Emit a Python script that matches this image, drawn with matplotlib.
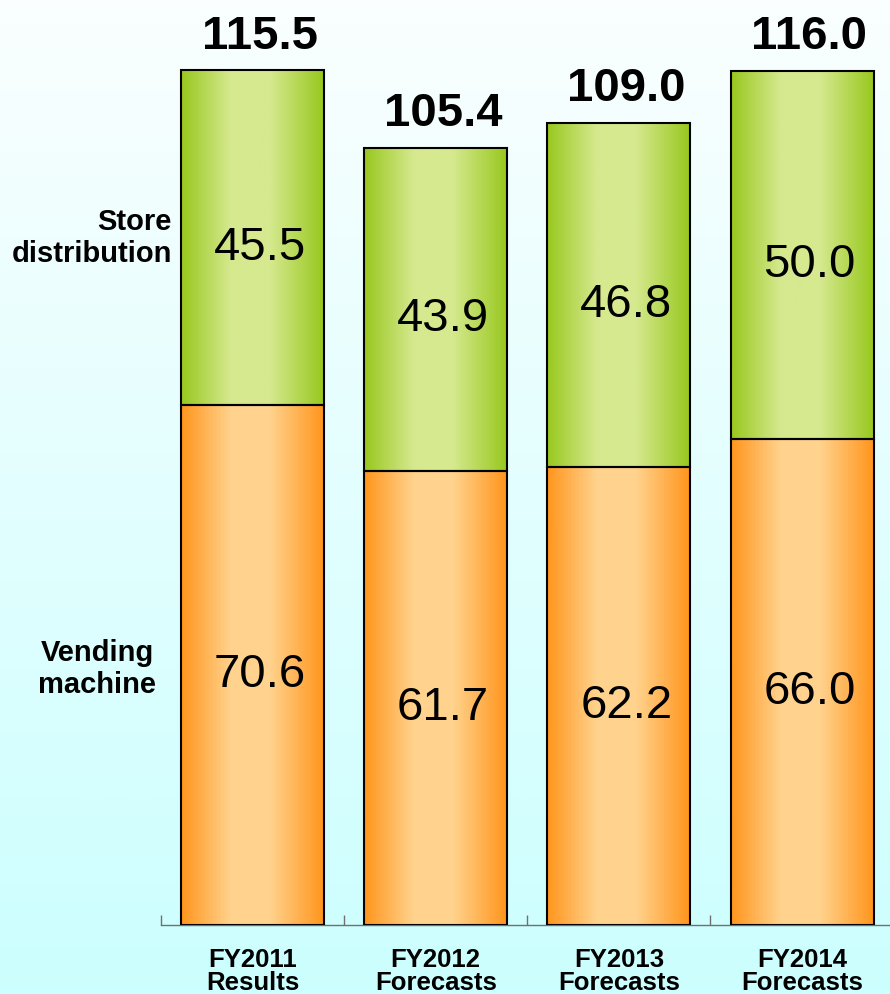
import numpy as np
import matplotlib
matplotlib.use('Agg')
import matplotlib.pyplot as plt
from matplotlib.colors import LinearSegmentedColormap

plt.rcParams['font.family'] = ['Liberation Sans', 'DejaVu Sans']

categories = ['FY2011\nResults', 'FY2012\nForecasts', 'FY2013\nForecasts', 'FY2014\nForecasts']
vending = [70.6, 61.7, 62.2, 66.0]
store = [45.5, 43.9, 46.8, 50.0]
totals = ['115.5', '105.4', '109.0', '116.0']

# horizontal shading for bars: dark edge -> light middle -> dark edge
stops = [0.0, 0.35, 0.62, 1.0]
orange = LinearSegmentedColormap.from_list(
    'orange', list(zip(stops, ['#ff951c', '#ffd38e', '#ffd38e', '#ff951c'])))
green = LinearSegmentedColormap.from_list(
    'green', list(zip(stops, ['#98c81e', '#d6e98f', '#d6e98f', '#98c81e'])))
grad = np.linspace(0, 1, 256).reshape(1, -1)

fig = plt.figure(figsize=(8.9, 9.95), dpi=100)

# background gradient (white top -> pale cyan bottom)
bg = fig.add_axes([0, 0, 1, 1], zorder=-1)
bg_cmap = LinearSegmentedColormap.from_list('bg', ['#ccffff', '#fafefe'])
bg.imshow(np.linspace(0, 1, 256).reshape(-1, 1), cmap=bg_cmap, aspect='auto',
          extent=[0, 1, 0, 1], origin='lower', interpolation='bilinear')
bg.set_axis_off()

ax = fig.add_axes([161 / 890, 69 / 995, 1 - 161 / 890, 926 / 995])
ax.patch.set_alpha(0)

x = np.arange(len(categories))
w = 0.78
b1 = ax.bar(x, vending, width=w, facecolor='none', edgecolor='black', linewidth=1.5, zorder=3)
b2 = ax.bar(x, store, width=w, bottom=vending, facecolor='none', edgecolor='black',
            linewidth=1.5, zorder=3)

for bars, cmap in ((b1, orange), (b2, green)):
    for r in bars:
        x0, y0 = r.get_x(), r.get_y()
        ax.imshow(grad, cmap=cmap, aspect='auto', zorder=2, interpolation='bilinear',
                  extent=[x0, x0 + r.get_width(), y0, y0 + r.get_height()])

dx = 0.04
for i in range(len(categories)):
    ax.text(x[i] + dx, vending[i] / 2 - 1.2, f'{vending[i]:.1f}', ha='center', va='center',
            fontsize=34, zorder=4)
    ax.text(x[i] + dx, vending[i] + store[i] / 2 - 1.2, f'{store[i]:.1f}', ha='center',
            va='center', fontsize=34, zorder=4)
    ax.annotate(totals[i], (x[i] + dx, vending[i] + store[i]), xytext=(0, 25),
                textcoords='offset points', ha='center', va='center', fontsize=34,
                fontweight='bold', annotation_clip=False)

ax.set_xlim(-0.5, 3.48)
ax.set_ylim(0, 125.8)

ax.set_xticks(x)
ax.set_xticklabels(categories, fontsize=18.5, fontweight='bold', linespacing=0.95)
ax.tick_params(axis='x', which='major', length=0, pad=16)
ax.set_xticks(np.arange(-0.5, 3.5, 1), minor=True)
ax.tick_params(axis='x', which='minor', direction='in', length=7, width=1, color='#707070')
ax.set_yticks([])
for s in ('top', 'right', 'left'):
    ax.spines[s].set_visible(False)
ax.spines['bottom'].set_color('#707070')
ax.spines['bottom'].set_linewidth(1)

fig.text(172 / 890, 1 - 238 / 995, 'Store\ndistribution', ha='right', va='center',
         fontsize=21, fontweight='bold', linespacing=1.15, multialignment='right')
fig.text(97 / 890, 1 - 669 / 995, 'Vending\nmachine', ha='center', va='center',
         fontsize=21, fontweight='bold', linespacing=1.2)

fig.savefig('out.png', dpi=100)
